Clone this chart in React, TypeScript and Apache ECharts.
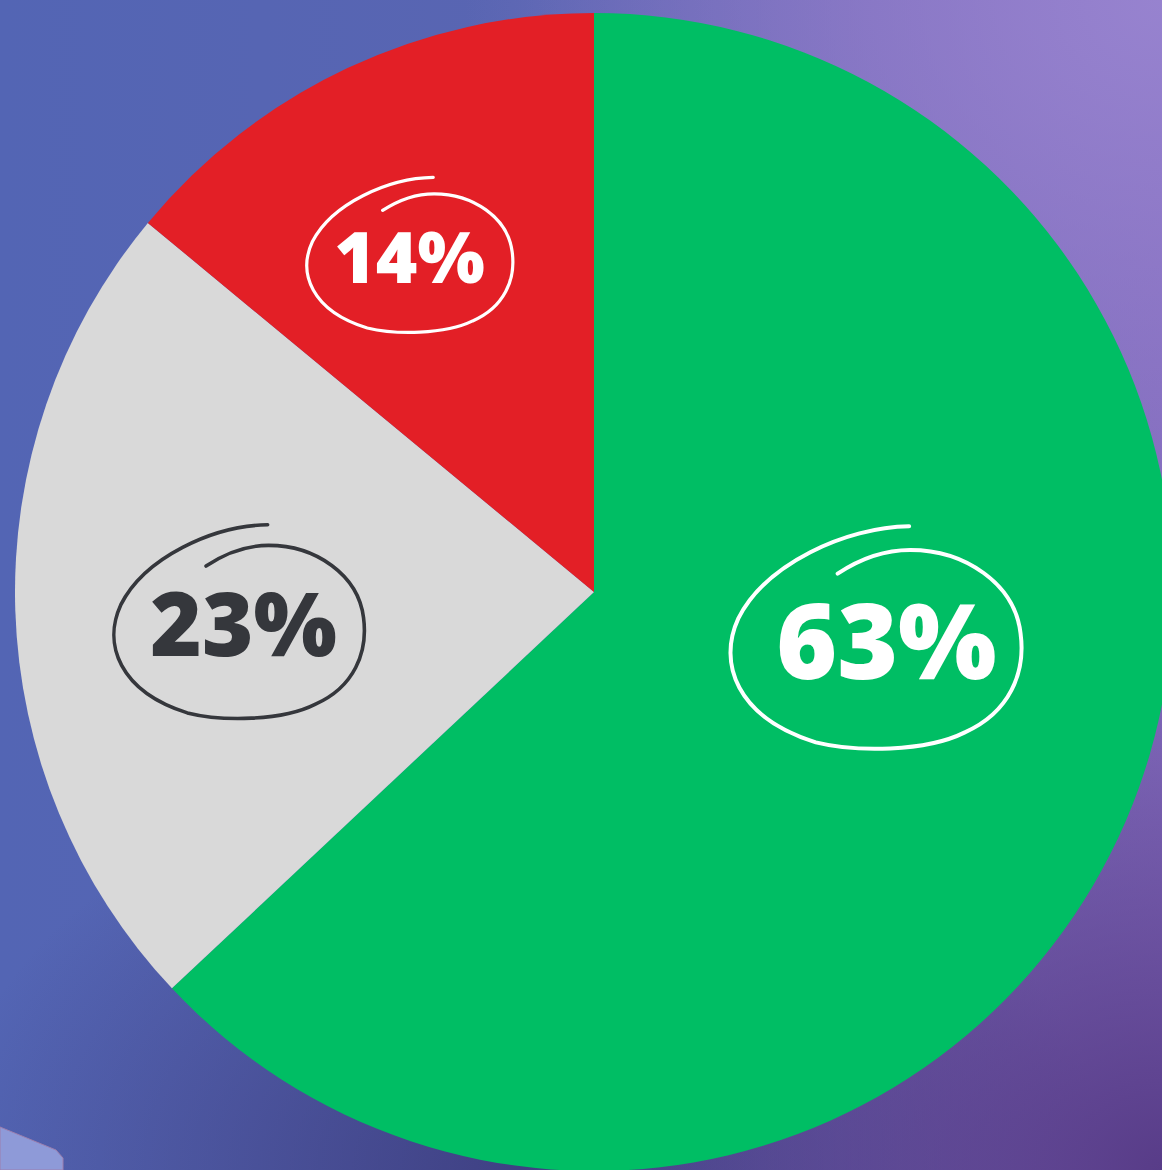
import React, { useEffect, useRef } from "react";
import * as echarts from "echarts";

// ---- data ----
const categories = ["Green", "Gray", "Red"];
const values = [63, 23, 14];
const valueLabels = ["63%", "23%", "14%"];

// ---- styles ----
const sliceColors = ["#00BE64", "#D9D9D9", "#E31F26"];
const textColors = ["#FFFFFF", "#35373C", "#FFFFFF"];
const fontSizes = [104, 88, 71];
const boxSizes = [
  [304, 234],
  [262, 204],
  [216, 164],
];
const textShiftX = [22, 10, 0];
const textShiftUp = [5, 3, 0];
const strokeWidths = [4, 3.6, 3.2];
const labelOffsets = [
  [13, -70],
  [-63, 21],
  [-60, -72],
];

// normalized hand-drawn ellipse (spiral-ish, open at top)
const ring = [
  [0.613, 0.009],
  [0.4, 0.013], [0.133, 0.174], [0.04, 0.413],
  [-0.03, 0.609], [0.033, 0.848], [0.3, 0.957],
  [0.433, 1.0], [0.667, 1.0], [0.8, 0.913],
  [0.95, 0.826], [1.005, 0.652], [0.987, 0.478],
  [0.967, 0.261], [0.8, 0.113], [0.617, 0.113],
  [0.517, 0.113], [0.433, 0.165], [0.373, 0.217],
];

function scribble(w: number, h: number, color: string, sw: number): string {
  const p = sw / 2 + 1;
  const X = (n: number) => (p + n * (w - 2 * p)).toFixed(1);
  const Y = (n: number) => (p + n * (h - 2 * p)).toFixed(1);
  let d = `M${X(ring[0][0])},${Y(ring[0][1])}`;
  for (let i = 1; i < ring.length; i += 3) {
    d += ` C${X(ring[i][0])},${Y(ring[i][1])} ${X(ring[i + 1][0])},${Y(ring[i + 1][1])} ${X(ring[i + 2][0])},${Y(ring[i + 2][1])}`;
  }
  const svg = `<svg xmlns="http://www.w3.org/2000/svg" width="${w}" height="${h}" viewBox="0 0 ${w} ${h}"><path d="${d}" fill="none" stroke="${color}" stroke-width="${sw}" stroke-linecap="round" stroke-linejoin="round"/></svg>`;
  return "data:image/svg+xml;charset=utf-8," + encodeURIComponent(svg);
}

const FONT = "'Open Sans', 'Noto Sans', 'DejaVu Sans', sans-serif";

export default function App() {
  const ref = useRef<HTMLDivElement>(null);

  useEffect(() => {
    if (!ref.current) return;
    const chart = echarts.init(ref.current, undefined, { renderer: "svg" });

    const data = categories.map((name, i) => {
      const [bw, bh] = boxSizes[i];
      const padB = textShiftUp[i] * 2;
      return {
        name,
        value: values[i],
        itemStyle: { color: sliceColors[i] },
        label: {
          show: true,
          position: "inside" as const,
          formatter: valueLabels[i],
          color: textColors[i],
          fontSize: fontSizes[i],
          fontWeight: 800,
          fontFamily: FONT,
          width: bw - textShiftX[i],
          height: bh - padB,
          lineHeight: bh - padB,
          padding: [0, 0, padB, textShiftX[i]],
          backgroundColor: {
            image: scribble(bw, bh, textColors[i], strokeWidths[i]),
          },
        },
      };
    });

    chart.setOption({
      animation: false,
      graphic: [
        {
          type: "polygon",
          z: -10,
          silent: true,
          shape: {
            points: [
              [0, 1127],
              [56, 1150],
              [63, 1158],
              [63, 1170],
              [0, 1170],
            ],
          },
          style: { fill: "#8E9AD8", stroke: "#9c7fae", lineWidth: 1 },
        },
      ],
      series: [
        {
          type: "pie",
          center: [594, 592],
          radius: [0, 579],
          startAngle: 90,
          clockwise: true,
          silent: true,
          avoidLabelOverlap: false,
          labelLine: { show: false },
          emphasis: { disabled: true },
          labelLayout: (p: any) => ({
            dx: labelOffsets[p.dataIndex][0],
            dy: labelOffsets[p.dataIndex][1],
          }),
          data,
        },
      ],
    });

    return () => chart.dispose();
  }, []);

  return (
    <div
      style={{
        position: "absolute",
        left: 0,
        top: 0,
        width: 1162,
        height: 1170,
        overflow: "hidden",
        background: [
          "radial-gradient(ellipse 60% 50% at 100% 0%, rgba(152,132,208,0.95), rgba(152,132,208,0) 100%)",
          "radial-gradient(ellipse 55% 45% at 100% 100%, rgba(88,60,136,1), rgba(88,60,136,0) 100%)",
          "radial-gradient(ellipse 50% 35% at 45% 100%, rgba(60,60,126,0.9), rgba(60,60,126,0) 100%)",
          "linear-gradient(90deg, #5365b4 0%, #5965b2 45%, #7669b9 75%, #826bbd 100%)",
        ].join(", "),
      }}
    >
      <div ref={ref} style={{ width: 1162, height: 1170 }} />
    </div>
  );
}
